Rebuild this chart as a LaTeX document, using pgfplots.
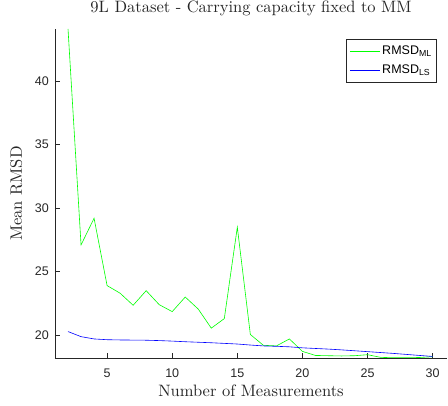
\documentclass[border=0pt]{standalone}
\usepackage{pgfplots}
\pgfplotsset{compat=1.18}
\usepackage{fontspec}
\newfontfamily\helv{Liberation Sans}
\newfontfamily\lmten{lmroman10-regular.otf}

\definecolor{mlgreen}{RGB}{0,255,0}
\definecolor{lsblue}{RGB}{0,0,255}
\definecolor{axgray}{RGB}{38,38,38}

\begin{document}
\begin{tikzpicture}
\begin{axis}[
    scale only axis,
    width=392pt, height=329pt,
    xmin=1, xmax=31.1,
    ymin=18.2, ymax=44.1,
    axis lines=left,
    axis line style={-, color=axgray, line width=0.6pt},
    tick align=inside,
    tick style={color=axgray, line width=0.6pt},
    major tick length=5pt,
    xtick={5,10,...,30},
    ytick={20,25,...,40},
    /pgf/number format/assume math mode=true,
    ticklabel style={font=\helv\fontsize{12.5}{14}\selectfont, text=axgray},
    xticklabel style={anchor=base, yshift=-20pt},
    yticklabel style={anchor=east, inner sep=0pt, xshift=-6pt},
    title={9L Dataset - Carrying capacity fixed to MM},
    title style={font=\lmten\fontsize{16.5}{18}\selectfont, text=axgray,
        at={([yshift=10pt]axis description cs:0.5,1)}, anchor=base},
    xlabel={Number of Measurements},
    ylabel={Mean RMSD},
    xlabel style={at={([yshift=-39pt]axis description cs:0.5,0)}, anchor=base},
    ylabel style={at={([xshift=-33pt]axis description cs:0,0.5)}, anchor=base},
    label style={font=\lmten\fontsize{16.5}{18}\selectfont, text=axgray},
    legend style={at={(0.9745,0.971)}, anchor=north east, draw=axgray,
        line width=0.6pt,
        font=\helv\fontsize{12.5}{14}\selectfont,
        inner xsep=3pt, inner ysep=5pt, row sep=5pt,
        cells={anchor=west, inner sep=2pt}},
    legend image code/.code={\draw[#1, line width=0.8pt] (0pt,0pt) -- (30pt,0pt);},
]

% RMSD_ML
\addplot[color=mlgreen, line width=0.6pt, mark=none] coordinates {
    (2,44.1) (3,27.1) (4,29.2) (5,23.9) (6,23.3) (7,22.35) (8,23.5)
    (9,22.4) (10,21.85) (11,23.0) (12,22.05) (13,20.55) (14,21.3)
    (15,28.5) (16,20.05) (17,19.2) (18,19.15) (19,19.7) (20,18.72)
    (21,18.4) (22,18.38) (23,18.36) (24,18.38) (25,18.46) (26,18.25)
    (27,18.22) (28,18.22) (29,18.24) (30,18.3)
};
\addlegendentry{RMSD\textsubscript{ML}}

% RMSD_LS
\addplot[color=lsblue, line width=0.6pt, mark=none] coordinates {
    (2,20.28) (3,19.88) (4,19.7) (5,19.64) (6,19.62) (7,19.61) (8,19.6)
    (9,19.57) (10,19.53) (11,19.48) (12,19.44) (13,19.4) (14,19.35)
    (15,19.3) (16,19.22) (17,19.15) (18,19.12) (19,19.08) (20,19.0)
    (21,18.95) (22,18.9) (23,18.84) (24,18.77) (25,18.7) (26,18.63)
    (27,18.56) (28,18.48) (29,18.4) (30,18.32)
};
\addlegendentry{RMSD\textsubscript{LS}}

\end{axis}
\pgfresetboundingbox
\path[use as bounding box] ([xshift=-55pt,yshift=-48pt]current axis.south west)
    rectangle ([xshift=1pt,yshift=29pt]current axis.north east);
\end{tikzpicture}
\end{document}
